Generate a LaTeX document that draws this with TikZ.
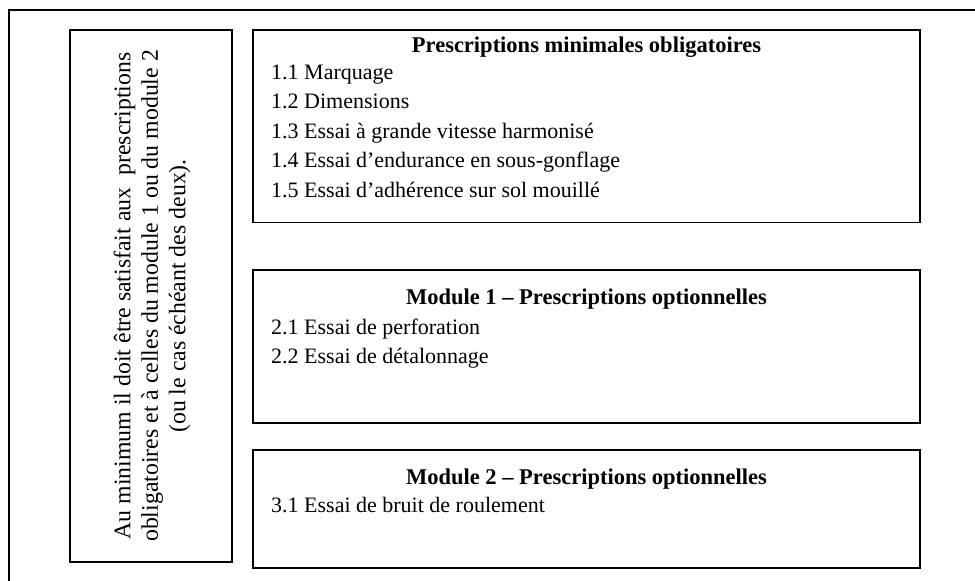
\documentclass[tikz,border=0pt]{standalone}
\usepackage{fontspec}
\setmainfont{Liberation Serif}
\begin{document}
\begin{tikzpicture}[x=1pt,y=-1pt,
  box/.style={draw, line width=1.2pt, inner sep=0pt},
  frameline/.style={line width=2pt},
  txt/.style={anchor=base west, inner sep=0pt, font=\fontsize{22}{28}\selectfont},
  ttl/.style={anchor=base, inner sep=0pt, font=\fontsize{22.5}{28}\selectfont\bfseries},
  note/.style={rotate=90, align=center, inner sep=0pt, font=\fontsize{23.8}{27.5}\selectfont}]
\useasboundingbox (0,0) rectangle (975,581);
% outer frame
\coordinate (fbl) at (9,581);
\coordinate (ftl) at (9,10);
\coordinate (ftr) at (975,10);
\draw[frameline] (fbl) -- (ftl) -- (ftr);
% boxes
\node[box, minimum width=162, minimum height=532] (left) at (151,296) {};
\node[box, minimum width=667, minimum height=192.5] (b1) at (586.5,126.25) {};
\node[box, minimum width=667, minimum height=153] (b2) at (586.5,346.5) {};
\node[box, minimum width=667, minimum height=118] (b3) at (586.5,509) {};
% left note
\node[note] (n) at (152,296) {Au minimum il doit être satisfait aux\ \ prescriptions\\obligatoires et à celles du module 1 ou du module 2\\(ou le cas échéant des deux).};
% box 1
\node[ttl] (t1) at (586.5,52) {Prescriptions minimales obligatoires};
\node[txt] (l11) at (271,79) {1.1 Marquage};
\node[txt] (l12) at (271,108.5) {1.2 Dimensions};
\node[txt] (l13) at (271,138) {1.3 Essai à grande vitesse harmonisé};
\node[txt] (l14) at (271,167.5) {1.4 Essai d’endurance en sous-gonflage};
\node[txt] (l15) at (271,197) {1.5 Essai d’adhérence sur sol mouillé};
% box 2
\node[ttl] (t2) at (586.5,304) {Module 1 – Prescriptions optionnelles};
\node[txt] (l21) at (271,334) {2.1 Essai de perforation};
\node[txt] (l22) at (271,363) {2.2 Essai de détalonnage};
% box 3
\node[ttl] (t3) at (586.5,484) {Module 2 – Prescriptions optionnelles};
\node[txt] (l31) at (271,512) {3.1 Essai de bruit de roulement};
\end{tikzpicture}
\end{document}
